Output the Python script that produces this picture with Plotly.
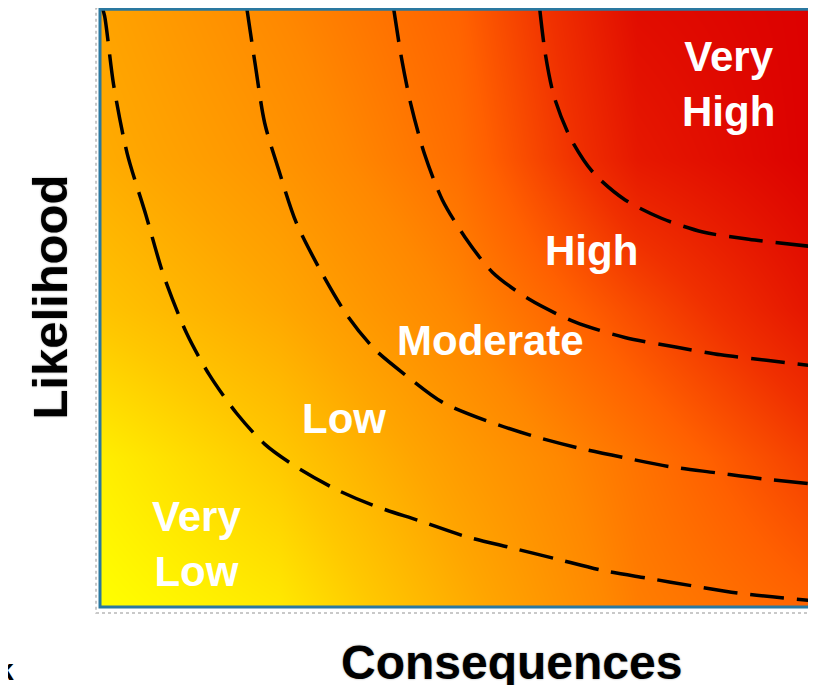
import plotly.graph_objects as go

# ---- background risk level (0 = yellow, 1 = deep red)
grid_consequence = [0, 2.5, 5, 7.5, 10]
grid_likelihood = [0, 2.5, 5, 7.5, 10]
risk_level = [
    [0.00, 0.08, 0.31, 0.54, 0.64],   # likelihood 0
    [0.06, 0.20, 0.40, 0.58, 0.76],   # likelihood 2.5
    [0.22, 0.34, 0.51, 0.72, 0.92],   # likelihood 5
    [0.32, 0.44, 0.60, 0.90, 1.00],   # likelihood 7.5
    [0.36, 0.50, 0.64, 0.95, 1.00],   # likelihood 10
]

# ---- dashed iso-risk boundaries (consequence, likelihood)
curveA_x = [0.03, 0.064, 0.19, 0.38, 0.64, 0.89, 1.21, 1.53, 1.91, 2.30, 2.74, 3.32, 3.83, 4.46,
            5.10, 5.74, 6.38, 7.02, 7.65, 8.29, 8.93, 10.0]
curveA_y = [10.0, 9.87, 8.72, 7.57, 6.55, 5.53, 4.57, 3.87, 3.23, 2.72, 2.34, 1.95, 1.69, 1.44,
            1.18, 0.99, 0.80, 0.61, 0.48, 0.35, 0.23, 0.10]

curveB_x = [2.05, 2.17, 2.30, 2.49, 2.74, 3.06, 3.44, 3.83, 4.27, 4.78, 5.42, 6.06, 6.70, 7.33,
            7.97, 8.61, 9.25, 10.0]
curveB_y = [10.0, 9.04, 8.08, 7.32, 6.42, 5.66, 4.89, 4.31, 3.87, 3.42, 3.10, 2.85, 2.65, 2.49,
            2.34, 2.24, 2.14, 2.05]

curveC_x = [4.10, 4.21, 4.34, 4.53, 4.78, 5.10, 5.48, 5.99, 6.63, 7.33, 8.04, 8.67, 9.31, 10.0]
curveC_y = [10.0, 9.17, 8.40, 7.57, 6.80, 6.17, 5.59, 5.14, 4.76, 4.50, 4.34, 4.21, 4.12, 4.02]

curveD_x = [6.14, 6.22, 6.34, 6.57, 6.89, 7.33, 7.84, 8.42, 9.06, 10.0]
curveD_y = [10.0, 9.23, 8.53, 7.83, 7.25, 6.80, 6.49, 6.26, 6.14, 6.01]

# ---- zone labels
zone_labels = ["Very<br>Low", "Low", "Moderate", "High", "Very<br>High"]
zone_x = [1.35, 3.41, 5.45, 6.86, 8.78]
zone_y = [1.05, 3.15, 4.45, 5.95, 8.73]

x_title = "Consequences"
y_title = "Likelihood"

colorscale = [
    [0.00, "#ffff00"],
    [0.20, "#ffc800"],
    [0.35, "#ffa500"],
    [0.50, "#ff8800"],
    [0.65, "#ff6000"],
    [0.80, "#f03000"],
    [1.00, "#dc0000"],
]

fig = go.Figure()
fig.add_trace(go.Heatmap(
    x=grid_consequence, y=grid_likelihood, z=risk_level,
    colorscale=colorscale, zmin=0, zmax=1, zsmooth="best",
    showscale=False, hoverinfo="skip",
))

for cx, cy in [(curveA_x, curveA_y), (curveB_x, curveB_y), (curveC_x, curveC_y), (curveD_x, curveD_y)]:
    fig.add_trace(go.Scatter(
        x=cx, y=cy, mode="lines",
        line=dict(color="black", width=3.5, dash="34px,13px", shape="spline", smoothing=0.8),
        hoverinfo="skip", showlegend=False,
    ))

for t, x, y in zip(zone_labels, zone_x, zone_y):
    fig.add_annotation(x=x, y=y, xref="x", yref="y", text=t, showarrow=False,
                       font=dict(family="Liberation Sans, Arial, sans-serif", size=42,
                                 color="white", weight="bold"),
                       align="center")

fig.add_annotation(x=0.575, y=-0.092, xref="paper", yref="paper", text=x_title,
                   showarrow=False,
                   font=dict(family="Liberation Sans, Arial, sans-serif", size=48, color="black",
                             weight="bold", shadow="0px 0px 2px #9a9a9a"),
                   xanchor="center", yanchor="middle")
fig.add_annotation(x=-0.07, y=0.518, xref="paper", yref="paper", text=y_title,
                   showarrow=False,
                   font=dict(family="Liberation Sans, Arial, sans-serif", size=49, color="black",
                             weight="bold", shadow="0px 0px 2px #9a9a9a"),
                   textangle=-90, xanchor="center", yanchor="middle")
# cut-off letter at the bottom-left edge of the picture
fig.add_annotation(x=-0.117, y=-0.105, xref="paper", yref="paper", text="k",
                   showarrow=False, font=dict(family="Liberation Sans, Arial, sans-serif",
                                              size=30, color="black", weight="bold"),
                   xanchor="right", yanchor="middle")

# frame
fig.add_shape(type="rect", xref="paper", yref="paper", x0=-4/716, x1=1.01, y0=-6/599, y1=1.0,
              line=dict(color="#b8b8b8", width=1.5, dash="dot"), layer="above")
fig.add_shape(type="rect", xref="paper", yref="paper", x0=0, x1=1.01, y0=0, y1=0.998,
              line=dict(color="#2a78a0", width=3), layer="above")

fig.update_xaxes(range=[0, 10], showgrid=False, zeroline=False, showticklabels=False,
                 showline=False, ticks="")
fig.update_yaxes(range=[0, 10], showgrid=False, zeroline=False, showticklabels=False,
                 showline=False, ticks="")
# the page adds an 8px body margin, so the figure is sized to the rest of the window
fig.update_layout(
    width=808, height=677,
    margin=dict(l=92, r=0, t=0, b=78),
    paper_bgcolor="white", plot_bgcolor="white",
    showlegend=False,
)

fig.write_html("out.html")
